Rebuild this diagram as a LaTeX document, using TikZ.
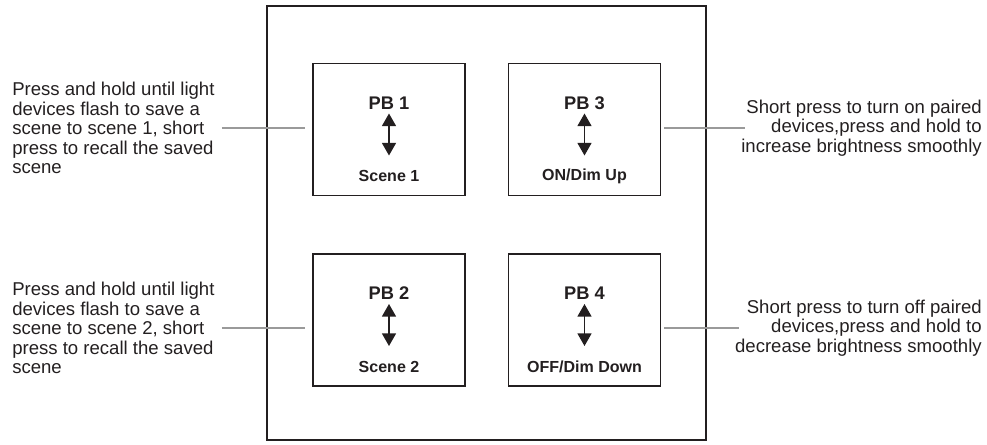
\documentclass[tikz,border=0pt]{standalone}
\usepackage{fontspec}
\setmainfont{Liberation Sans}
\usepackage{xcolor}
\usetikzlibrary{calc, arrows.meta, positioning}

\definecolor{inkgray}{HTML}{231F20}
\definecolor{leadgray}{HTML}{9A9A9A}

\tikzset{
    pbbox/.style={draw=inkgray, line width=1pt, minimum width=3.8cm, minimum height=3.3cm, inner sep=0pt},
    pbtitle/.style={font=\fontsize{13}{14}\selectfont\bfseries, text=inkgray},
    pbcaption/.style={font=\fontsize{11.4}{13}\selectfont\bfseries, text=inkgray},
    pbarrow/.style={{Triangle[width=10pt,length=9pt]}-{Triangle[width=10pt,length=9pt]}, line width=1pt, inkgray},
    note/.style={font=\fontsize{13.2}{13.8}\selectfont, text=inkgray, inner sep=0pt},
    leader/.style={leadgray, line width=0.8pt}
}

\begin{document}
\begin{tikzpicture}[x=0.025cm, y=-0.025cm]
    \useasboundingbox (0,0) rectangle (987,445);
    % outer plate
    \draw[inkgray, line width=1pt] (267,6) rectangle (706,440);

    % push buttons
    \foreach \name/\cx/\cy/\title/\caption in {pb1/389/129.5/PB 1/Scene 1, pb3/584.5/129.5/PB 3/ON\slash Dim Up, pb2/389/320/PB 2/Scene 2, pb4/584.5/320/PB 4/OFF\slash Dim Down}{
        \node[pbbox] (\name) at (\cx,\cy) {};
        \node[pbtitle] (\name-t) at ($(\name)+(0,-26.5)$) {\title};
        \node[pbcaption] (\name-c) at ($(\name)+(0,46.5)$) {\caption};
        \draw[pbarrow] ($(\name)+(0,-16)$) -- ($(\name)+(0,26)$);
    }

    % notes
    \node[note, anchor=west, align=left] (n1) at (12,128) {Press and hold until light\\devices flash to save a\\scene to scene 1, short\\press to recall the saved\\scene};
    \node[note, anchor=west, align=left] (n2) at (12,328) {Press and hold until light\\devices flash to save a\\scene to scene 2, short\\press to recall the saved\\scene};
    \node[note, anchor=east, align=right] (n3) at (982,128) {Short press to turn on paired\\devices,press and hold to\\increase brightness smoothly};
    \node[note, anchor=east, align=right] (n4) at (982,328) {Short press to turn off paired\\devices,press and hold to\\decrease brightness smoothly};

    % leader lines
    \draw[leader] ([xshift=5pt]n1.east) -- ([xshift=-5pt]n1.east -| pb1.west);
    \draw[leader] ([xshift=5pt]n2.east) -- ([xshift=-5pt]n2.east -| pb2.west);
    \draw[leader] ([xshift=2pt]n3.west -| pb3.east) -- ([xshift=3pt]n3.west);
    \draw[leader] ([xshift=2pt]n4.west -| pb4.east) -- ([xshift=3pt]n4.west);
\end{tikzpicture}
\end{document}
